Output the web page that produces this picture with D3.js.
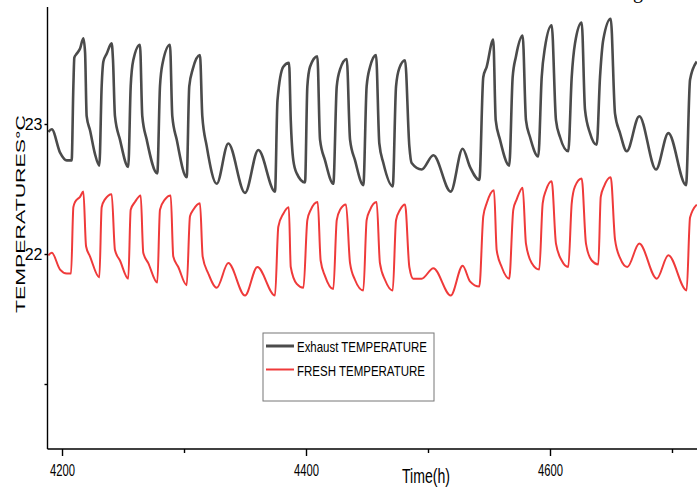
<!DOCTYPE html>
<html>
<head>
<meta charset="utf-8">
<script src="https://cdn.jsdelivr.net/npm/d3@7/dist/d3.min.js"></script>
<style>
  body { margin: 0; background: #ffffff; }
  svg { display: block; }
</style>
</head>
<body>
<div id="chart"></div>
<script>
/* values: hour and temperature at the turning points of each daily cycle */
var exhaustHours = [
  4188.8, 4191.6, 4198.4, 4203.9, 4207.9, 4209.3, 4210.1, 4212.0, 4214.8, 4217.5, 4218.9, 4220.2, 4223.0, 4227.0, 4230.6,
  4232.5, 4233.9, 4236.6, 4240.7, 4241.8, 4243.4, 4247.5, 4254.3,
  4256.3, 4258.4, 4263.9, 4265.8, 4269.4, 4278.1,
  4280.3, 4282.5, 4288.5, 4290.4, 4294.0, 4302.2,
  4304.3, 4307.1, 4313.1, 4315.0, 4318.6, 4326.8,
  4336.3, 4350.0, 4360.9, 4374.6,
  4376.6, 4381.4, 4386.1, 4387.5, 4389.6, 4392.4, 4399.2,
  4401.1, 4403.3, 4409.3, 4411.5, 4415.6, 4422.4,
  4425.2, 4427.9, 4433.4, 4436.1, 4440.2, 4447.0,
  4449.7, 4452.5, 4457.4, 4460.1, 4463.4, 4471.1,
  4473.8, 4476.5, 4481.2, 4484.7, 4486.6, 4494.8,
  4504.4, 4518.6, 4528.4, 4534.4, 4542.1,
  4545.3, 4548.1, 4553.5, 4555.5, 4559.0, 4566.6,
  4569.4, 4572.1, 4577.6, 4580.3, 4583.6, 4590.4,
  4593.2, 4595.9, 4601.4, 4604.9, 4608.2, 4615.0,
  4617.8, 4620.5, 4626.0, 4628.7, 4632.8, 4638.3,
  4641.0, 4643.7, 4649.8, 4653.3, 4657.4, 4662.9,
  4673.2, 4686.9, 4697.0, 4711.5, 4714.8, 4720.3
];
var exhaustTemps = [
  22.94, 22.96, 22.78, 22.72, 22.72, 23.29, 23.51, 23.54, 23.58, 23.66, 23.55, 23.06, 22.95, 22.77, 22.68,
  23.29, 23.48, 23.54, 23.62, 23.49, 23.06, 22.88, 22.67,
  23.29, 23.49, 23.61, 23.06, 22.88, 22.62,
  23.29, 23.47, 23.61, 23.06, 22.88, 22.59,
  23.29, 23.42, 23.53, 23.06, 22.83, 22.54,
  22.85, 22.47, 22.80, 22.48,
  23.18, 23.44, 23.47, 23.03, 22.72, 22.62, 22.55,
  23.29, 23.44, 23.52, 22.88, 22.72, 22.54,
  23.29, 23.42, 23.50, 22.88, 22.72, 22.53,
  23.29, 23.44, 23.53, 22.85, 22.70, 22.52,
  23.29, 23.43, 23.49, 22.83, 22.70, 22.65,
  22.76, 22.48, 22.81, 22.67, 22.57,
  23.36, 23.44, 23.65, 23.03, 22.88, 22.68,
  23.36, 23.52, 23.68, 23.03, 22.90, 22.75,
  23.36, 23.59, 23.76, 23.03, 22.90, 22.79,
  23.36, 23.62, 23.78, 23.11, 22.93, 22.84,
  23.36, 23.65, 23.81, 23.08, 22.93, 22.79,
  23.06, 22.65, 22.93, 22.53, 23.34, 23.48
];
var freshHours = [
  4188.8, 4191.6, 4198.4, 4203.9, 4207.4, 4209.3, 4210.7, 4214.8, 4217.5, 4219.7, 4223.0, 4230.6,
  4232.5, 4235.2, 4240.7, 4243.4, 4247.5, 4254.3,
  4256.3, 4259.8, 4264.5, 4266.6, 4270.7, 4278.1,
  4280.3, 4284.4, 4289.1, 4291.2, 4295.3, 4302.2,
  4304.9, 4307.6, 4313.1, 4315.3, 4319.9, 4326.8,
  4336.3, 4350.0, 4360.1, 4374.6,
  4377.3, 4381.4, 4385.9, 4387.5, 4392.4, 4397.9,
  4401.1, 4403.9, 4409.6, 4412.0, 4415.6, 4422.4,
  4425.2, 4427.9, 4432.8, 4436.1, 4440.2, 4447.0,
  4449.7, 4452.5, 4457.9, 4460.6, 4464.8, 4471.1,
  4473.8, 4477.1, 4481.2, 4484.7, 4487.9, 4494.8,
  4504.4, 4518.6, 4528.4, 4534.4, 4542.1,
  4545.3, 4548.1, 4554.1, 4556.3, 4560.4, 4566.6,
  4569.9, 4572.7, 4577.6, 4580.3, 4585.0, 4591.2,
  4594.0, 4596.7, 4601.4, 4604.9, 4609.6, 4615.0,
  4617.8, 4620.5, 4626.0, 4629.5, 4634.2, 4639.6,
  4641.6, 4644.3, 4649.8, 4653.3, 4657.4, 4663.4,
  4673.2, 4687.5, 4697.0, 4712.0, 4714.8, 4720.3
];
var freshTemps = [
  21.99, 22.01, 21.88, 21.85, 21.85, 22.36, 22.40, 22.44, 22.48, 22.06, 21.98, 21.82,
  22.36, 22.42, 22.46, 22.03, 21.95, 21.81,
  22.34, 22.40, 22.45, 22.01, 21.93, 21.78,
  22.34, 22.42, 22.45, 21.98, 21.90, 21.76,
  22.29, 22.34, 22.39, 21.98, 21.85, 21.74,
  21.93, 21.68, 21.90, 21.68,
  22.21, 22.31, 22.36, 21.90, 21.77, 21.74,
  22.26, 22.34, 22.40, 21.95, 21.83, 21.73,
  22.26, 22.34, 22.38, 21.93, 21.80, 21.72,
  22.26, 22.34, 22.40, 21.93, 21.80, 21.72,
  22.26, 22.34, 22.38, 21.90, 21.81, 21.81,
  21.89, 21.68, 21.91, 21.79, 21.75,
  22.29, 22.39, 22.49, 22.03, 21.90, 21.81,
  22.34, 22.42, 22.51, 22.08, 21.93, 21.88,
  22.39, 22.49, 22.56, 22.08, 21.95, 21.90,
  22.39, 22.52, 22.58, 22.08, 21.95, 21.92,
  22.44, 22.52, 22.59, 22.11, 21.97, 21.90,
  22.08, 21.81, 21.99, 21.72, 22.28, 22.38
];

var seriesNames = ["Exhaust TEMPERATURE", "FRESH TEMPERATURE"];
var seriesColors = ["#4b4b4b", "#ef3a3a"];

var xTicks = [4200, 4300, 4400, 4500, 4600, 4700];
var xTickLabels = ["4200", "", "4400", "", "4600", ""];
var yTicks = [21, 22, 23];
var yTickLabels = ["", "22", "23"];

/* chart box (note: "top" is taken by window.top, so prefix everything) */
var width = 697, height = 487;
var plotLeft = 47.5, plotRight = 697, plotTop = 7, plotBottom = 449;

var svg = d3.select("#chart")
  .append("svg")
    .attr("width", width)
    .attr("height", height);

var x = d3.scaleLinear().domain([4188.1, 4720.5]).range([plotLeft, plotRight]);
var y = d3.scaleLinear().domain([20.5, 23.9]).range([plotBottom, plotTop]);

/* lines */
var line = d3.line()
  .x(function (d) { return x(d[0]); })
  .y(function (d) { return y(d[1]); })
  .curve(d3.curveMonotoneX);

var exhaust = exhaustHours.map(function (h, i) { return [h, exhaustTemps[i]]; });
var fresh = freshHours.map(function (h, i) { return [h, freshTemps[i]]; });

svg.append("path")
  .datum(exhaust)
  .attr("d", line)
  .attr("fill", "none")
  .attr("stroke", seriesColors[0])
  .attr("stroke-width", 2.6)
  .attr("stroke-linejoin", "round");

svg.append("path")
  .datum(fresh)
  .attr("d", line)
  .attr("fill", "none")
  .attr("stroke", seriesColors[1])
  .attr("stroke-width", 2)
  .attr("stroke-linejoin", "round");

/* x axis */
var xAxis = svg.append("g")
  .attr("transform", "translate(0," + plotBottom + ")")
  .call(d3.axisBottom(x)
    .tickValues(xTicks)
    .tickSize(0)
    .tickFormat(function (d, i) { return xTickLabels[i]; }));

xAxis.select(".domain")
  .attr("d", "M" + plotLeft + ",0H" + plotRight)
  .attr("stroke", "#000")
  .attr("stroke-width", 1.7);

xAxis.selectAll(".tick line")
  .attr("y2", function (d, i) { return xTickLabels[i] ? 7 : 4; })
  .attr("stroke", "#000")
  .attr("stroke-width", 1.4);

xAxis.selectAll(".tick text")
  .attr("y", 27)
  .attr("dy", null)
  .attr("fill", "#000")
  .style("font-family", "Liberation Sans, Arial, sans-serif")
  .style("font-size", "16px")
  .attr("textLength", function (d, i) { return xTickLabels[i] ? 25 : null; })
  .attr("lengthAdjust", "spacingAndGlyphs");

/* y axis */
var yAxis = svg.append("g")
  .attr("transform", "translate(" + plotLeft + ",0)")
  .call(d3.axisLeft(y)
    .tickValues(yTicks)
    .tickSize(3)
    .tickPadding(2)
    .tickFormat(function (d, i) { return yTickLabels[i]; }));

yAxis.select(".domain")
  .attr("d", "M0," + plotTop + "V" + plotBottom)
  .attr("stroke", "#000")
  .attr("stroke-width", 1.4);

yAxis.selectAll(".tick line")
  .attr("stroke", "#000")
  .attr("stroke-width", 1.4);

yAxis.selectAll(".tick text")
  .attr("fill", "#000")
  .attr("dy", "0.36em")
  .style("font-family", "Liberation Sans, Arial, sans-serif")
  .style("font-size", "16px");

/* axis titles */
svg.append("text")
  .attr("x", 402)
  .attr("y", 483)
  .attr("textLength", 48)
  .attr("lengthAdjust", "spacingAndGlyphs")
  .style("font-family", "Liberation Sans, Arial, sans-serif")
  .style("font-size", "20px")
  .attr("fill", "#000")
  .text("Time(h)");

svg.append("text")
  .attr("transform", "translate(25,214) rotate(-90)")
  .attr("text-anchor", "middle")
  .attr("textLength", 198)
  .attr("lengthAdjust", "spacingAndGlyphs")
  .style("font-family", "Liberation Sans, Arial, sans-serif")
  .style("font-size", "13px")
  .attr("fill", "#000")
  .text("TEMPERATURES°C");

/* cut-off caption above the chart */
svg.append("text")
  .attr("x", 633)
  .attr("y", -2)
  .style("font-family", "Liberation Serif, serif")
  .style("font-size", "20px")
  .attr("fill", "#000")
  .text("g");

/* legend */
var legend = svg.append("g").attr("transform", "translate(263,333)");

legend.append("rect")
  .attr("width", 171)
  .attr("height", 68)
  .attr("fill", "#fff")
  .attr("stroke", "#777")
  .attr("stroke-width", 1);

legend.selectAll("line.key")
  .data(seriesNames)
  .enter()
  .append("line")
    .attr("class", "key")
    .attr("x1", 3)
    .attr("x2", 31)
    .attr("y1", function (d, i) { return 13 + i * 23.5; })
    .attr("y2", function (d, i) { return 13 + i * 23.5; })
    .attr("stroke", function (d, i) { return seriesColors[i]; })
    .attr("stroke-width", function (d, i) { return i === 0 ? 3 : 2; });

legend.selectAll("text.key")
  .data(seriesNames)
  .enter()
  .append("text")
    .attr("class", "key")
    .attr("x", 34)
    .attr("y", function (d, i) { return 18.5 + i * 24; })
    .attr("textLength", function (d, i) { return i === 0 ? 130 : 128; })
    .attr("lengthAdjust", "spacingAndGlyphs")
    .style("font-family", "Liberation Sans, Arial, sans-serif")
    .style("font-size", "14px")
    .attr("fill", "#000")
    .text(function (d) { return d; });
</script>
</body>
</html>
